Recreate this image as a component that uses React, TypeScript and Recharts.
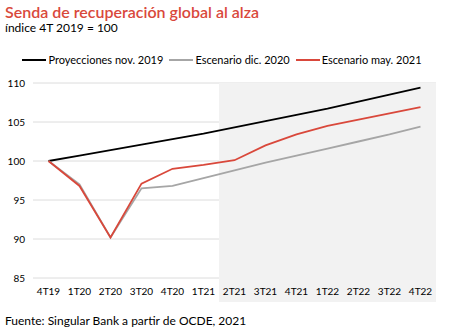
import React from 'react';
import { LineChart, Line, XAxis, YAxis, CartesianGrid, ReferenceArea } from 'recharts';

const quarters = ['4T19', '1T20', '2T20', '3T20', '4T20', '1T21', '2T21', '3T21', '4T21', '1T22', '2T22', '3T22', '4T22'];
const nov2019 = [100, 100.7, 101.4, 102.1, 102.8, 103.5, 104.3, 105.1, 105.9, 106.7, 107.6, 108.5, 109.4];
const dic2020 = [100, 97.0, 90.2, 96.5, 96.8, 97.8, 98.8, 99.8, 100.7, 101.6, 102.5, 103.4, 104.4];
const may2021 = [100, 96.8, 90.2, 97.1, 99.0, 99.5, 100.1, 102.0, 103.4, 104.5, 105.3, 106.1, 106.9];
const yTicks = [85, 90, 95, 100, 105, 110];
const forecastStart = '2T21';
const forecastEnd = '4T22';

const series = [
  { key: 'nov2019', name: 'Proyecciones nov. 2019', color: '#000000' },
  { key: 'dic2020', name: 'Escenario dic. 2020', color: '#a6a6a6' },
  { key: 'may2021', name: 'Escenario may. 2021', color: '#d9483b' },
];

const data = quarters.map((q, i) => ({
  name: q,
  nov2019: nov2019[i],
  dic2020: dic2020[i],
  may2021: may2021[i],
}));

const FONT = 'Lato, "Open Sans", sans-serif';

// shaded forecast zone: widen by half a category on each side and run under the tick labels
const ForecastShade = (props: any) => {
  const { x, y, width, height } = props;
  const step = width / (quarters.indexOf(forecastEnd) - quarters.indexOf(forecastStart));
  return <rect x={x - step / 2} y={y} width={width + step} height={height + 24} fill="#f2f2f2" />;
};

const App = () => {
  return (
    <div style={{ position: 'absolute', left: 0, top: 0, width: 450, height: 333, fontFamily: FONT, background: '#fff' }}>
      <div style={{ position: 'absolute', left: 5, top: 2, fontSize: 16, fontWeight: 600, color: '#d9483b' }}>
        Senda de recuperación global al alza
      </div>
      <div style={{ position: 'absolute', left: 5, top: 20, fontSize: 12, color: '#000' }}>índice 4T 2019 = 100</div>
      <div style={{ position: 'absolute', left: 0, top: 53, width: 450, display: 'flex', justifyContent: 'center', fontSize: 11 }}>
        {series.map((s) => (
          <div key={s.key} style={{ display: 'flex', alignItems: 'center', marginRight: 6 }}>
            <div style={{ width: 24, height: 2, backgroundColor: s.color, marginRight: 2 }}></div>
            <span>{s.name}</span>
          </div>
        ))}
      </div>
      <div style={{ position: 'absolute', left: 0, top: 48 }}>
        <LineChart width={450} height={254} data={data} margin={{ top: 35, right: 14, left: 8, bottom: 0 }}>
          <ReferenceArea x1={forecastStart} x2={forecastEnd} y1={85} y2={110} shape={ForecastShade} />
          <CartesianGrid vertical={false} stroke="#dcdcdc" />
          <XAxis
            dataKey="name"
            axisLine={false}
            tickLine={false}
            interval={0}
            height={24}
            tickMargin={4}
            padding={{ left: 15.5, right: 15.5 }}
            tick={{ fontSize: 10, fill: '#000', fontFamily: FONT }}
          />
          <YAxis
            domain={[85, 110]}
            ticks={yTicks}
            axisLine={false}
            tickLine={false}
            width={25}
            tickMargin={2}
            tick={{ fontSize: 10, fill: '#000', fontFamily: FONT }}
          />
          {series.map((s) => (
            <Line key={s.key} type="linear" dataKey={s.key} name={s.name} stroke={s.color} strokeWidth={1.8} dot={false} isAnimationActive={false} />
          ))}
        </LineChart>
      </div>
      <div style={{ position: 'absolute', left: 5, top: 313, fontSize: 12, color: '#000' }}>
        Fuente: Singular Bank a partir de OCDE, 2021
      </div>
    </div>
  );
};

export default App;
